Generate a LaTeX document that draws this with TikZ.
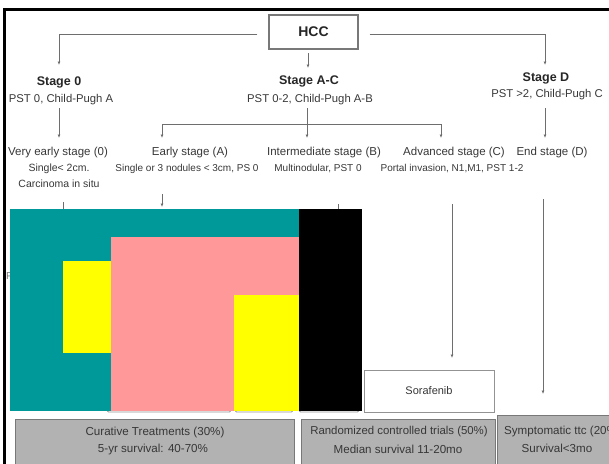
\documentclass[tikz,border=0pt]{standalone}
\usepackage{fontspec}
\setmainfont{Liberation Sans}
\usetikzlibrary{arrows.meta}

\definecolor{linegray}{RGB}{110,110,110}
\definecolor{txtgray}{RGB}{55,55,55}
\definecolor{boxgray}{RGB}{178,178,178}
\definecolor{boxedge}{RGB}{120,120,120}
\definecolor{blockteal}{RGB}{0,153,153}
\definecolor{blockpink}{RGB}{255,153,153}
\definecolor{blockyellow}{RGB}{255,255,0}

\begin{document}
\begin{tikzpicture}[x=1pt,y=-1pt,
  conn/.style={draw=linegray, line width=0.8pt},
  arr/.style={conn, -{Latex[length=3.5pt,width=3pt]}},
  txt/.style={inner sep=0pt, text=txtgray},
  head/.style={inner sep=0pt, text=black!85, font=\fontsize{12.5}{14}\selectfont\bfseries},
  title/.style={txt, font=\fontsize{11.5}{13}\selectfont},
  note/.style={txt, font=\fontsize{10}{12}\selectfont},
  result/.style={txt, font=\fontsize{11.6}{13}\selectfont},
  whitebox/.style={draw=boxedge!80, fill=white, line width=0.9pt},
  graybox/.style={draw=boxedge, fill=boxgray, line width=0.9pt}]

\useasboundingbox (0,0) rectangle (609,463);
\clip (0,0) rectangle (609,463);

% outer frame
\draw[line width=2.5pt] (4.5,480) -- (4.5,9.5) -- (640,9.5);

% root
\node[draw=boxedge, line width=1.1pt, fill=white, minimum width=89pt, minimum height=34pt,
      inner sep=0pt, font=\fontsize{14}{16}\selectfont\bfseries, text=black!85] (hcc) at (313.5,32) {HCC};

% stages
\node[head] (s0) at (59,82) {Stage 0};
\node[txt, font=\fontsize{11.3}{13}\selectfont] (s0d) at (61,100) {PST 0, Child-Pugh A};
\node[head] (sac) at (309,81) {Stage A-C};
\node[txt, font=\fontsize{11.3}{13}\selectfont] (sacd) at (310,100) {PST 0-2, Child-Pugh A-B};
\node[head] (sd) at (546,78) {Stage D};
\node[txt, font=\fontsize{11.3}{13}\selectfont] (sdd) at (547,95) {PST >2, Child-Pugh C};

% root to stages
\coordinate (s0in) at (59,65);
\coordinate (sdin) at (545,65);
\coordinate (ctop) at (308,53);
\coordinate (cin) at (308,68);
\draw[arr] ([xshift=-11pt,yshift=-2pt]hcc.west) -| (s0in);
\draw[arr] ([xshift=11pt,yshift=-2pt]hcc.east) -| (sdin);
\draw[arr] (ctop) -- (cin);

% sub-stage labels
\node[title] (ve) at (58,153) {Very early stage (0)};
\node[txt, font=\fontsize{10.5}{12}\selectfont] (ved1) at (59,169) {Single< 2cm.};
\node[txt, font=\fontsize{10.5}{12}\selectfont] (ved2) at (59,184) {Carcinoma in situ};
\node[title] (ea) at (190,153) {Early stage (A)};
\node[note] (ead) at (187,169) {Single or 3 nodules < 3cm, PS 0};
\node[title] (im) at (324,153) {Intermediate stage (B)};
\node[note] (imd) at (318,169) {Multinodular, PST 0};
\node[title] (ad) at (454,153) {Advanced stage (C)};
\node[note] (add) at (452,169) {Portal invasion, N1,M1, PST 1-2};
\node[title] (en) at (552,153) {End stage (D)};

% stages to sub-stages
\coordinate (s0out) at (59,108);
\coordinate (vein) at (59,138);
\draw[arr] (s0out) -- (vein);
\coordinate (sacout) at (307,108);
\coordinate (imin) at (307,138);
\draw[arr] (sacout) -- (imin);
\coordinate (barl) at (162,124);
\coordinate (barr) at (441,124);
\coordinate (eain) at (162,138);
\coordinate (adin) at (441,138);
\draw[conn] (barl) -- (barr);
\draw[arr] (barl) -- (eain);
\draw[arr] (barr) -- (adin);
\coordinate (sdout) at (545,108);
\coordinate (enin) at (545,138);
\draw[arr] (sdout) -- (enin);

% lower connectors
\coordinate (veout) at (63,202);
\coordinate (veend) at (63,230);
\draw[conn] (veout) -- (veend);
\coordinate (eaout) at (162,194);
\coordinate (eaend) at (162,207);
\draw[arr] (eaout) -- (eaend);
\coordinate (imout) at (338,204);
\coordinate (imend) at (338,230);
\draw[conn] (imout) -- (imend);
\coordinate (adout) at (452,204);
\coordinate (soin) at (452,358);
\draw[arr] (adout) -- (soin);
\coordinate (enout) at (543,199);
\coordinate (syin) at (543,394);
\draw[arr] (enout) -- (syin);

% partly hidden label at the left edge
\node[txt, anchor=west, font=\fontsize{10}{12}\selectfont, text=txtgray!70] (edge) at (6,276) {P};

% treatment boxes lying under the blocks
\draw[whitebox, rounded corners=1.5pt] (107,380) rectangle (231,412);
\draw[whitebox, rounded corners=1.5pt] (235,380) rectangle (293,412);
\draw[whitebox, rounded corners=1.5pt] (299,380) rectangle (359,412);

% coloured blocks
\fill[blockteal] (10,209) rectangle (299,411);
\fill[black] (299,209) rectangle (362,411);
\fill[blockpink] (111,237) rectangle (299,411);
\fill[blockyellow] (63,261) rectangle (111,353);
\fill[blockyellow] (234,295) rectangle (299,411);

% Sorafenib
\node[whitebox, minimum width=130pt, minimum height=42pt, inner sep=0pt,
      font=\fontsize{11}{13}\selectfont, text=txtgray] (so) at (429,391) {Sorafenib};

% outcome boxes
\draw[graybox] (15,419) rectangle (294,480);
\node[result] (cur1) at (155,432) {Curative Treatments (30\%)};
\node[result] (cur2) at (153,449) {5-yr survival: 40-70\%};
\draw[graybox] (301,419) rectangle (495,480);
\node[result, font=\fontsize{11.4}{13}\selectfont] (rct1) at (399,432) {Randomized controlled trials (50\%)};
\node[result] (rct2) at (398,449) {Median survival 11-20mo};
\draw[graybox] (497,415) rectangle (660,480);
\node[result, anchor=west] (sym1) at (504,431) {Symptomatic ttc (20\%)};
\node[result] (sym2) at (557,448) {Survival<3mo};
\end{tikzpicture}
\end{document}
